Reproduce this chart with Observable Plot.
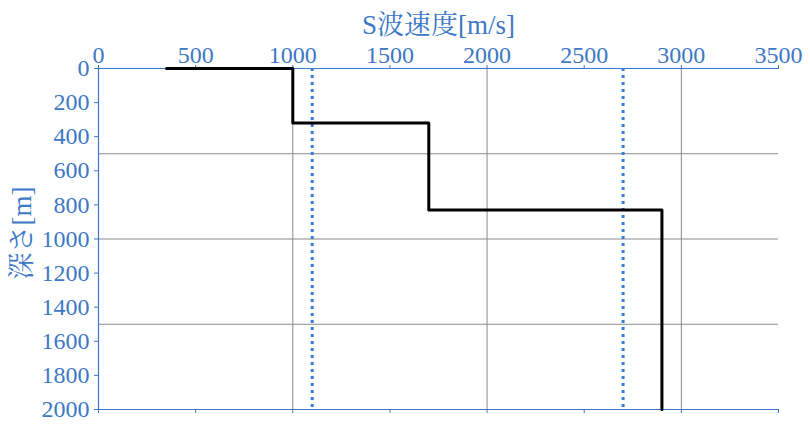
<!DOCTYPE html>
<html><head><meta charset="utf-8">
<script src="https://cdn.jsdelivr.net/npm/d3@7"></script>
<script src="https://cdn.jsdelivr.net/npm/@observablehq/plot@0.6"></script>
<style>body{margin:0;background:#fff}
#chart svg, #chart svg text{font-family:"Liberation Serif","Noto Serif CJK JP","Noto Sans CJK JP",serif !important;}
</style>
</head><body><div id="chart"></div>
<script>
const velocity = [350, 1000, 1000, 1700, 1700, 2900, 2900];
const depth = [0, 0, 320, 320, 830, 830, 2000];
const refVelocities = [1100, 2700];
const xTicks = [0, 500, 1000, 1500, 2000, 2500, 3000, 3500];
const yTicks = [0, 200, 400, 600, 800, 1000, 1200, 1400, 1600, 1800, 2000];
const xGrid = [1000, 2000, 3000];
const yGrid = [500, 1000, 1500];
const xTitle = "S波速度[m/s]";
const yTitle = "深さ[m]";

const blue = "#3d78c6";
const profile = velocity.map((v, i) => ({v, d: depth[i]}));
const fmt = d3.format("d");

const chart = Plot.plot({
  width: 810, height: 426,
  marginLeft: 98, marginRight: 32, marginTop: 68, marginBottom: 17,
  style: {color: blue, background: "#fff"},
  x: {domain: [0, 3500], axis: null},
  y: {domain: [0, 2000], reverse: true, axis: null},
  marks: [
    Plot.ruleX(xGrid, {stroke: "#8a8a8a", strokeWidth: 1}),
    Plot.ruleY(yGrid, {stroke: "#8a8a8a", strokeWidth: 1}),
    Plot.ruleY([0, 2000], {stroke: blue, strokeWidth: 1.2}),
    Plot.ruleX([0], {stroke: blue, strokeWidth: 1.2}),
    Plot.axisX(xTicks, {anchor: "top", tickSize: 4, tickPadding: 2, fontSize: 24, tickFormat: fmt, label: null}),
    Plot.axisX(xTicks, {anchor: "bottom", tickSize: 4, tickFormat: () => "", label: null}),
    Plot.axisY(yTicks, {anchor: "left", tickSize: 4, tickPadding: 5, fontSize: 24, tickFormat: fmt, label: null}),
    Plot.ruleX(refVelocities, {stroke: "#3a7bd5", strokeWidth: 3, strokeDasharray: "3,4"}),
    Plot.line(profile, {x: "v", y: "d", stroke: "#000", strokeWidth: 3, curve: "linear"}),
    Plot.text([xTitle], {frameAnchor: "top", dy: -54, fontSize: 27, fill: blue}),
    Plot.text([yTitle], {frameAnchor: "left", textAnchor: "middle", dx: -76, dy: -6, rotate: -90, fontSize: 27, fill: blue})
  ]
});
document.getElementById("chart").appendChild(chart);
</script>
</body></html>
